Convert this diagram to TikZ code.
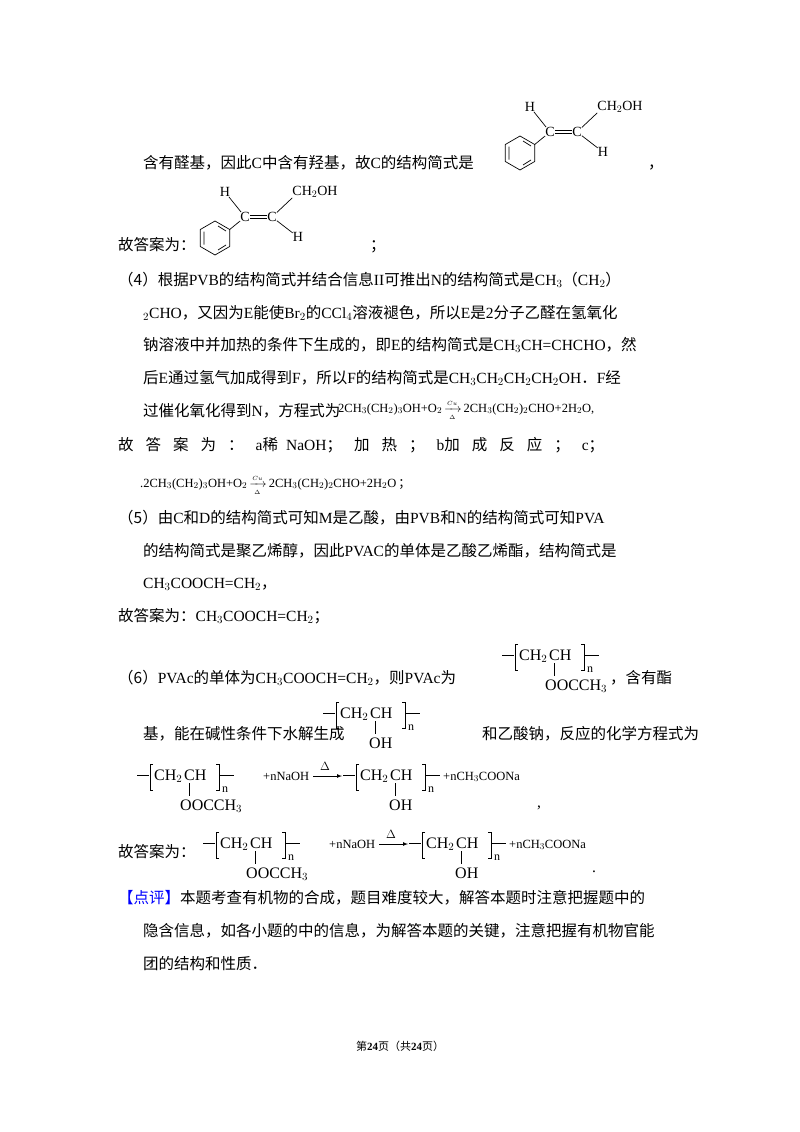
\documentclass[tikz,border=0pt]{standalone}
\usepackage{fontspec}
\usepackage{amsmath}
\setmainfont{Liberation Serif}
\newfontfamily\cjk{Noto Sans CJK SC}
\newcommand{\zh}[1]{{\cjk #1}}
\begin{document}
\begin{tikzpicture}[x=1pt,y=-1pt,
  txt/.style={anchor=base west,inner sep=0pt,font=\fontsize{15.5}{18}\selectfont},
  sm/.style={anchor=base west,inner sep=0pt,font=\fontsize{12.5}{13}\selectfont},
  chem/.style={inner sep=0pt,font=\fontsize{14}{15}\selectfont},
  pchem/.style={inner sep=0pt,anchor=base west,font=\fontsize{16}{17}\selectfont},
  bond/.style={line width=0.7pt}]
\useasboundingbox[fill=white] (0,0) rectangle (800,1132);
% styrene alcohol structure
\newcommand{\styr}[2]{%
\begin{scope}[shift={(#1,#2)}]
 \draw[bond] (0,-17) -- (14.7,-8.5) -- (14.7,8.5) -- (0,17) -- (-14.7,8.5) -- (-14.7,-8.5) -- cycle;
 \draw[bond] (3,-12) -- (11,-7) (11,7) -- (3,12) (-11,6.5) -- (-11,-6.5);
 \node[chem] (c1) at (30,-21) {C};
 \node[chem] (c2) at (57,-21) {C};
 \node[chem] (h1) at (10,-46) {H};
 \node[chem] (oh) at (100,-46) {CH$_2$OH};
 \node[chem] (h2) at (83,-1) {H};
 \draw[bond] (14.7,-8.5) -- (c1);
 \draw[bond] (c1) -- (h1);
 \draw[bond] (c2) -- (oh.south west);
 \draw[bond] (c2) -- (h2);
 \draw[bond] ([yshift=-1.3]c1.east) -- ([yshift=-1.3]c2.west);
 \draw[bond] ([yshift=1.3]c1.east) -- ([yshift=1.3]c2.west);
\end{scope}}
% polymer
\newcommand{\poly}[4]{%
\begin{scope}[shift={(#1,#2)}]
 \draw[bond] (0,0) -- (12,0);
 \draw[bond] (16,-11) -- (13,-11) -- (13,15) -- (16,15);
 \node[pchem] at (17,5) {CH$_2$};
 \node[pchem] at (47,5) {CH};
 \draw[bond] (52,8) -- (52,21);
 \draw[bond] (82,0) -- (97,0);
 \draw[bond] (79,-11) -- (82,-11) -- (82,15) -- (79,15);
 \node[chem,anchor=base west,font=\fontsize{12}{12}\selectfont] at (85,17) {n};
 \node[pchem] at (#3,35) {#4};
\end{scope}}
\newcommand{\reaction}[2]{%
\begin{scope}[shift={(#1,#2)}]
 \poly{0}{0}{43}{OOCCH$_3$}
 \node[sm] at (126,5) {+nNaOH};
 \draw[bond,-latex] (176,1) -- (205,1);
 \node[sm] at (183,-5) {$\Delta$};
 \poly{206}{0}{46}{OH}
 \node[sm] at (306,5) {+nCH$_3$COONa};
\end{scope}}
\newcommand{\eqcu}{2CH$_3$(CH$_2$)$_3$OH+O$_2$\,$\xrightarrow[\scriptscriptstyle\Delta]{\scriptscriptstyle Cu}$\,2CH$_3$(CH$_2$)$_2$CHO+2H$_2$O}

\styr{520}{153}
\node[txt] (l1) at (143,168) {\zh{含有醛基，因此}C\zh{中含有羟基，故}C\zh{的结构简式是}};
\node[txt] (l1c) at (648,168) {\zh{，}};
\styr{215}{238}
\node[txt] (l2) at (118,250) {\zh{故答案为：}};
\node[txt] (l2c) at (370,250) {\zh{；}};

\node[txt] (a1) at (118,285) {\zh{（4）根据}PVB\zh{的结构简式并结合信息}II\zh{可推出}N\zh{的结构简式是}CH$_3$\zh{（}CH$_2$\zh{）}};
\node[txt] (a2) at (143,318) {$_2$CHO\zh{，又因为}E\zh{能使}Br$_2$\zh{的}CCl$_4$\zh{溶液褪色，所以}E\zh{是}2\zh{分子乙醛在氢氧化}};
\node[txt] (a3) at (143,350) {\zh{钠溶液中并加热的条件下生成的，即}E\zh{的结构简式是}CH$_3$CH=CHCHO\zh{，然}};
\node[txt] (a4) at (143,383) {\zh{后}E\zh{通过氢气加成得到}F\zh{，所以}F\zh{的结构简式是}CH$_3$CH$_2$CH$_2$CH$_2$OH\zh{．}F\zh{经}};
\node[txt] (a5) at (143,416) {\zh{过催化氧化得到}N\zh{，方程式为}};
\node[sm] (a5e) at (338,412) {\eqcu,};
\node[txt] (a6) at (118,450) {\zh{故\hspace{12pt}答\hspace{12pt}案\hspace{12pt}为\hspace{12pt}：\hspace{12pt}}a\zh{稀}\hspace{8pt}NaOH\zh{；\hspace{12pt}加\hspace{12pt}热\hspace{12pt}；\hspace{12pt}}b\zh{加\hspace{12pt}成\hspace{12pt}反\hspace{12pt}应\hspace{12pt}；\hspace{12pt}}c\zh{；}};
\node[sm] (a7) at (140,487) {.\eqcu\,\zh{；}};

\node[txt] (b1) at (118,523) {\zh{（5）由}C\zh{和}D\zh{的结构简式可知}M\zh{是乙酸，由}PVB\zh{和}N\zh{的结构简式可知}PVA};
\node[txt] (b2) at (143,556) {\zh{的结构简式是聚乙烯醇，因此}PVAC\zh{的单体是乙酸乙烯酯，结构简式是}};
\node[txt] (b3) at (143,588) {CH$_3$COOCH=CH$_2$\zh{，}};
\node[txt] (b4) at (118,621) {\zh{故答案为：}CH$_3$COOCH=CH$_2$\zh{；}};

\poly{502}{655}{43}{OOCCH$_3$}
\node[txt] (c1) at (118,683) {\zh{（6）}PVAc\zh{的单体为}CH$_3$COOCH=CH$_2$\zh{，则}PVAc\zh{为}};
\node[txt] (c1b) at (610,683) {\zh{，含有酯}};
\poly{323}{713}{46}{OH}
\node[txt] (c2) at (143,739) {\zh{基，能在碱性条件下水解生成}};
\node[txt] (c2b) at (482,739) {\zh{和乙酸钠，反应的化学方程式为}};
\reaction{137}{775}
\node[txt] (c3) at (537,807) {,};
\reaction{203}{843}
\node[txt] (c4) at (118,857) {\zh{故答案为：}};
\node[txt] (c4b) at (592,872) {.};

\node[txt] (d1) at (118,903) {\textcolor{blue}{\zh{【点评】}}\zh{本题考查有机物的合成，题目难度较大，解答本题时注意把握题中的}};
\node[txt] (d2) at (143,936) {\zh{隐含信息，如各小题的中的信息，为解答本题的关键，注意把握有机物官能}};
\node[txt] (d3) at (143,969) {\zh{团的结构和性质．}};

\node[anchor=base,inner sep=0pt,font=\fontsize{11}{12}\selectfont] (f) at (400,1050) {\zh{第}\textbf{24}\zh{页（共}\textbf{24}\zh{页）}};
\end{tikzpicture}
\end{document}
